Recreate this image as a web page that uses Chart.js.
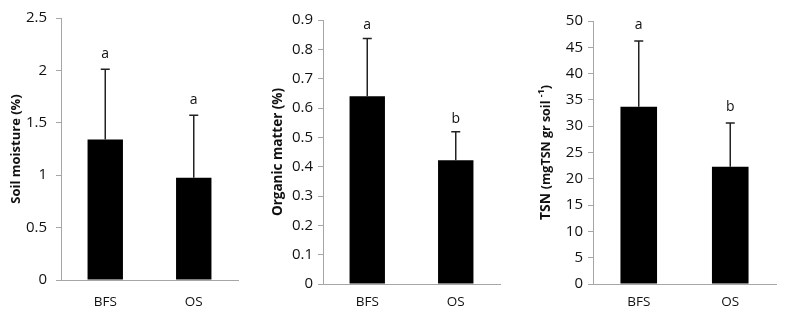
<!DOCTYPE html>
<html>
<head>
<meta charset="utf-8">
<script src="https://cdn.jsdelivr.net/npm/chart.js@4"></script>
<style>
  html, body { margin: 0; padding: 0; background: #fff; }
  #wrap { position: relative; width: 789px; height: 322px; overflow: hidden; }
  canvas { position: absolute; top: 0; }
</style>
</head>
<body>
<div id="wrap">
  <canvas id="c1" style="left:0px"></canvas>
  <canvas id="c2" style="left:263px"></canvas>
  <canvas id="c3" style="left:526px"></canvas>
</div>
<script>
// ---- data ----
const categories = ['BFS', 'OS'];

const moistureMeans = [1.34, 0.975];
const moistureErrors = [0.67, 0.598];
const moistureLetters = ['a', 'a'];
const moistureTicks = { max: 2.5, step: 0.5 };
const moistureTitle = ['Soil moisture (%)'];

const organicMeans = [0.64, 0.422];
const organicErrors = [0.197, 0.097];
const organicLetters = ['a', 'b'];
const organicTicks = { max: 0.9, step: 0.1 };
const organicTitle = ['Organic matter (%)'];

const tsnMeans = [33.7, 22.3];
const tsnErrors = [12.5, 8.3];
const tsnLetters = ['a', 'b'];
const tsnTicks = { max: 50, step: 5 };
const tsnTitle = ['TSN ', '(mgTSN gr soil ', '-1', ')'];

// ---- styling / layout (not data) ----
const AXIS_GREY = '#a6a6a6';
const TEXT = '#111';
const FONT = '"Open Sans", "Liberation Sans", sans-serif';

function makePanel(id, opts) {
  const canvas = document.getElementById(id);
  canvas.width = 263; canvas.height = 322;
  canvas.style.width = '263px'; canvas.style.height = '322px';

  const errorPlugin = {
    id: 'errs_' + id,
    afterDatasetsDraw(chart) {
      const ctx = chart.ctx;
      const meta = chart.getDatasetMeta(0);
      const ys = chart.scales.y;
      ctx.save();
      ctx.strokeStyle = '#222';
      ctx.lineWidth = 1.5;
      opts.means.forEach((m, i) => {
        const x = meta.data[i].x;
        const yb = ys.getPixelForValue(m);
        const yt = ys.getPixelForValue(m + opts.errors[i]);
        ctx.beginPath();
        ctx.moveTo(x, yb); ctx.lineTo(x, yt);
        ctx.moveTo(x - 4.5, yt); ctx.lineTo(x + 4.5, yt);
        ctx.stroke();
        ctx.fillStyle = TEXT;
        ctx.font = '14px ' + FONT;
        ctx.textAlign = 'center';
        ctx.textBaseline = 'middle';
        ctx.fillText(opts.letters[i], x, yt - opts.letterGap);
      });
      ctx.restore();
    },
    afterDraw(chart) {
      const ctx = chart.ctx;
      const ca = chart.chartArea;
      const runs = opts.titleRuns;
      ctx.save();
      ctx.translate(opts.titleX, (ca.top + ca.bottom) / 2 + opts.titleDy);
      ctx.rotate(-Math.PI / 2);
      ctx.fillStyle = TEXT;
      ctx.textBaseline = 'middle';
      ctx.textAlign = 'left';
      let total = 0;
      const parts = runs.map(r => {
        ctx.font = 'bold ' + r.size + 'px ' + FONT;
        const w = ctx.measureText(r.text).width;
        total += w;
        return { ...r, w };
      });
      let x = -total / 2;
      parts.forEach(p => {
        ctx.font = 'bold ' + p.size + 'px ' + FONT;
        ctx.fillText(p.text, x, p.raise ? -p.raise : 0);
        x += p.w;
      });
      ctx.restore();
    }
  };

  return new Chart(canvas, {
    type: 'bar',
    data: {
      labels: categories,
      datasets: [{
        data: opts.means,
        backgroundColor: '#000',
        borderWidth: 0,
        barPercentage: 0.8,
        categoryPercentage: 0.5
      }]
    },
    options: {
      responsive: false,
      animation: false,
      events: [],
      layout: { padding: { top: opts.padTop, right: opts.padRight, left: 0, bottom: 0 } },
      plugins: { legend: { display: false }, tooltip: { enabled: false } },
      scales: {
        x: {
          grid: { display: false },
          border: { display: true, color: AXIS_GREY, width: 1 },
          ticks: { color: TEXT, font: { family: FONT, size: 13.5 }, padding: opts.xPad },
          afterFit(s) { s.height = opts.xHeight; }
        },
        y: {
          min: 0, max: opts.ticks.max,
          grid: { display: true, drawOnChartArea: false, drawTicks: true, tickLength: 5, color: AXIS_GREY },
          border: { display: true, color: AXIS_GREY, width: 1 },
          ticks: {
            stepSize: opts.ticks.step, color: TEXT, padding: opts.yPad,
            font: { family: FONT, size: 15 },
            callback: v => String(+(+v).toFixed(2))
          },
          afterFit(s) { s.width = opts.yWidth; }
        }
      }
    },
    plugins: [errorPlugin]
  });
}

makePanel('c1', {
  means: moistureMeans, errors: moistureErrors, letters: moistureLetters, ticks: moistureTicks,
  titleRuns: [{ text: moistureTitle[0], size: 13 }],
  yWidth: 61, padTop: 15, padRight: 25, xHeight: 42, xPad: 6, yPad: 9,
  titleX: 16, titleDy: 0, letterGap: 15
});
makePanel('c2', {
  means: organicMeans, errors: organicErrors, letters: organicLetters, ticks: organicTicks,
  titleRuns: [{ text: organicTitle[0], size: 13.5 }],
  yWidth: 60, padTop: 20, padRight: 26, xHeight: 38, xPad: 2, yPad: 5,
  titleX: 15, titleDy: 0, letterGap: 13
});
makePanel('c3', {
  means: tsnMeans, errors: tsnErrors, letters: tsnLetters, ticks: tsnTicks,
  titleRuns: [
    { text: tsnTitle[0], size: 14 },
    { text: tsnTitle[1], size: 12.5 },
    { text: tsnTitle[2], size: 9, raise: 5 },
    { text: tsnTitle[3], size: 12.5 }
  ],
  yWidth: 67, padTop: 21, padRight: 13, xHeight: 38, xPad: 2, yPad: 5,
  titleX: 20, titleDy: 0, letterGap: 16
});
</script>
</body>
</html>
